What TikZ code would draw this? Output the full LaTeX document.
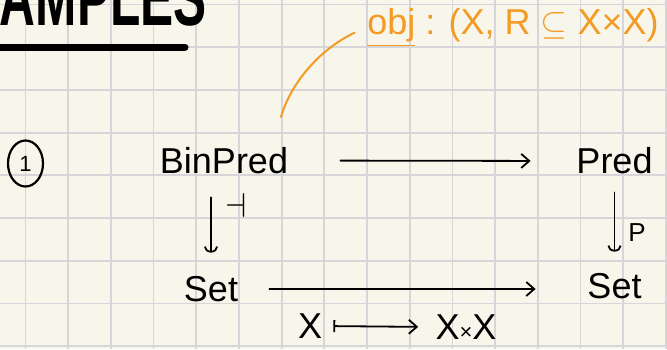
\documentclass[tikz,border=0pt]{standalone}
\usepackage{fontspec}
\setmainfont{Liberation Sans}
\usetikzlibrary{
    arrows.meta,
    shapes.geometric
}
\definecolor{paper}{RGB}{248,246,234}
\definecolor{gridgray}{RGB}{214,214,218}
\definecolor{marker}{RGB}{243,155,36}
\tikzstyle{obj} = [
    inner sep=0pt,
    font=\fontsize{18}{22}\selectfont
]
\tikzstyle{lbl} = [
    inner sep=0pt,
    font=\fontsize{13}{15}\selectfont
]
\tikzstyle{arrow} = [
    -{Straight Barb[length=4pt,width=7pt]},
    line width=0.9pt,
    line cap=round
]
\tikzstyle{downarrow} = [
    -{Arc Barb[length=3pt,width=7pt]},
    line width=0.9pt,
    line cap=round
]
\tikzstyle{note} = [
    draw=marker,
    line width=1pt,
    line cap=round
]

\begin{document}
\begin{tikzpicture}[x=0.5pt, y=-0.5pt]
    % Paper with grid
    \useasboundingbox (0,0) rectangle (667,349);
    \clip (0,0) rectangle (667,349);
    \fill[paper] (0,0) rectangle (667,349);
    \foreach \i in {0,...,15}
        \draw[gridgray, line width=0.9pt] ({25.4+\i*42.7},0) -- ++(0,349);
    \foreach \j in {0,...,8}
        \draw[gridgray, line width=0.9pt] (0,{4.5+\j*42.7}) -- ++(667,0);

    % Heading
    \node[anchor=base east, inner sep=0pt, font=\fontsize{40}{44}\selectfont\bfseries] (title) at (207,25) {\scalebox{0.62}[1]{EXAMPLES}};
    \draw[line width=3.5pt, line cap=round] (0,47) -- (185,47);

    % Item number
    \node[draw, ellipse, line width=1.1pt, minimum width=17.5pt, minimum height=23pt, inner sep=0pt, font=\fontsize{11}{11}\selectfont] (num) at (25.5,163.5) {1};

    % Objects
    \node[obj, minimum width=59pt, minimum height=17.5pt] (binpred) at (224,160.5) {BinPred};
    \node[obj, minimum width=42.5pt, minimum height=16pt] (pred) at (614.5,161) {Pred};
    \node[obj, minimum width=26pt, minimum height=19pt] (setl) at (211,289) {Set};
    \node[obj, minimum width=27.5pt, minimum height=19pt] (setr) at (614.5,286) {Set};

    % Arrows
    \draw[arrow, shorten <=26pt, shorten >=20.5pt] (binpred.east) -- (pred.west);
    \draw[arrow, shorten <=15.5pt, shorten >=25.5pt] (setl.east) -- (setl.east -| setr.west);
    \draw[downarrow, shorten <=9.5pt, shorten >=8.5pt] (binpred.south -| setl.north) -- node[lbl, pos=0.3, right=7pt, font=\fontsize{17}{17}\selectfont] {$\dashv$} (setl.north);
    \draw[downarrow, shorten <=7.5pt, shorten >=7.5pt] (pred.south) -- node[lbl, pos=0.62, right=6.5pt] {P} (setr.north);

    % Action on objects
    \node[obj, minimum width=10pt] (xsrc) at (310,326) {X};
    \node[obj, minimum width=29pt] (xprod) at (466,327) {X{\fontsize{11}{11}\selectfont×}X};
    \draw[{Bar[width=6pt]}-{Straight Barb[length=4pt,width=7pt]}, line width=0.9pt, line cap=round, shorten <=5.5pt, shorten >=8.5pt] (xsrc.east) -- (xprod.west);

    % Note on objects
    \node[obj, text=marker, minimum width=147pt] (objnote) at (513,27.5) {\underline{obj} : (X, R $\subseteq$ X×X)};
    \coordinate (tail) at (281,117);
    \draw[note, shorten >=6pt] (tail) .. controls (290,85) and (318,50) .. (objnote.west);
\end{tikzpicture}
\end{document}
